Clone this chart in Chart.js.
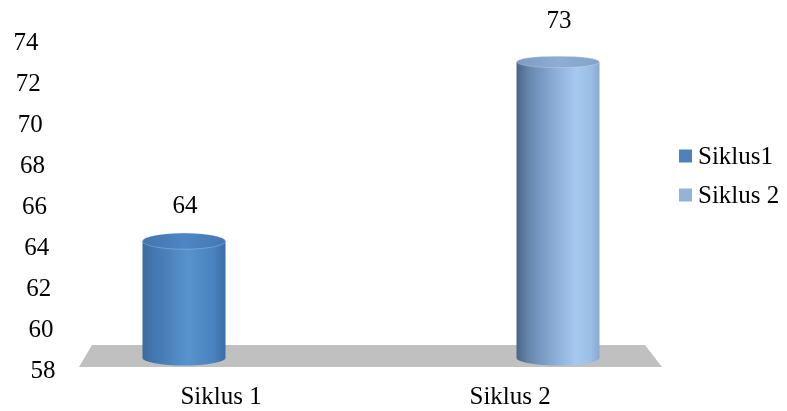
<!DOCTYPE html>
<html><head><meta charset="utf-8">
<script src="https://cdn.jsdelivr.net/npm/chart.js@4.4.0/dist/chart.umd.min.js"></script>
<style>html,body{margin:0;padding:0;background:#fff}#wrap{width:787px;height:411px}</style>
</head><body><div id="wrap"><canvas id="c" width="787" height="411"></canvas></div>
<script>
const categories = ['Siklus 1', 'Siklus 2'];
const seriesNames = ['Siklus1', 'Siklus 2'];
const siklus1Values = [64, null];
const siklus2Values = [null, 73];
const yTicks = [58, 60, 62, 64, 66, 68, 70, 72, 74];
const legendColors = ['#4f81bd', '#95b3d7'];

const FONT = '25px "Liberation Serif", "Times New Roman", serif';

const bodyStops = [
  [[0,'#3a699f'],[0.12,'#4276b0'],[0.55,'#5893cd'],[0.85,'#4a83c0'],[1,'#3b6da5']],
  [[0,'#4a6587'],[0.15,'#6787ad'],[0.5,'#8fb2dc'],[0.72,'#a7c9ef'],[0.9,'#9abde6'],[1,'#87aad3']]
];
const topStops = [
  [[0,'#4275ae'],[0.5,'#4d86c3'],[1,'#4378b2']],
  [[0,'#7c9bc1'],[0.5,'#8fadd2'],[1,'#84a3c9']]
];

function grad(ctx, x0, x1, stops) {
  const g = ctx.createLinearGradient(x0, 0, x1, 0);
  stops.forEach(s => g.addColorStop(s[0], s[1]));
  return g;
}

function drawCylinder(ctx, cx, top, bottom, rx, ry, bry, i) {
  ctx.save();
  ctx.beginPath();
  ctx.moveTo(cx - rx, top);
  ctx.lineTo(cx - rx, bottom);
  ctx.ellipse(cx, bottom, rx, bry, 0, Math.PI, 0, true);
  ctx.lineTo(cx + rx, top);
  ctx.closePath();
  ctx.fillStyle = grad(ctx, cx - rx, cx + rx, bodyStops[i]);
  ctx.fill();
  ctx.beginPath();
  ctx.ellipse(cx, top, rx, ry, 0, 0, Math.PI * 2);
  ctx.fillStyle = grad(ctx, cx - rx, cx + rx, topStops[i]);
  ctx.fill();
  ctx.strokeStyle = 'rgba(255,255,255,0.22)';
  ctx.lineWidth = 1;
  ctx.stroke();
  ctx.restore();
}

const scenePlugin = {
  id: 'scene',
  beforeDatasetsDraw(chart) {
    const ctx = chart.ctx;
    const ys = chart.scales.y, xs = chart.scales.x;
    const ca = chart.chartArea;
    const base = ys.getPixelForValue(ys.min);
    ctx.save();
    ctx.fillStyle = '#c0c0c0';
    ctx.beginPath();
    ctx.moveTo(ca.left - 92, base - 25);
    ctx.lineTo(ca.right + 87, base - 25);
    ctx.lineTo(ca.right + 104, base - 3);
    ctx.lineTo(ca.left - 105, base - 3);
    ctx.closePath();
    ctx.fill();
    ctx.font = FONT;
    ctx.fillStyle = '#000';
    ctx.textAlign = 'center';
    ctx.textBaseline = 'middle';
    yTicks.forEach(v => {
      const cx = 26 + (ys.max - v) * (17 / 16);
      ctx.fillText(String(v), cx, ys.getPixelForValue(v) + 1);
    });
    categories.forEach((c, i) => {
      const px = xs.getPixelForValue(i);
      ctx.fillText(c, 78.8 + 0.773 * px, base + 27);
    });
    ctx.restore();
  },
  afterDatasetsDraw(chart) {
    const ctx = chart.ctx;
    const ys = chart.scales.y;
    const ca = chart.chartArea;
    const base = ys.getPixelForValue(ys.min);
    chart.data.datasets.forEach((ds, di) => {
      const meta = chart.getDatasetMeta(di);
      meta.data.forEach((bar, j) => {
        const v = ds.data[j];
        if (v === null || v === undefined) return;
        const p = bar.getProps(['x', 'y', 'width'], true);
        const rx = p.width / 2;
        const depth = p.y - ca.top;
        const ry = 5.5 + depth / 80;
        const topY = p.y - depth / 35;
        drawCylinder(ctx, p.x, topY, base - 12, rx, ry, 7.5, di);
        ctx.save();
        ctx.font = FONT;
        ctx.fillStyle = '#000';
        ctx.textAlign = 'center';
        ctx.textBaseline = 'middle';
        ctx.fillText(String(v), p.x + 1, p.y - 41);
        ctx.restore();
      });
    });
    ctx.save();
    ctx.font = FONT;
    ctx.textAlign = 'left';
    ctx.textBaseline = 'middle';
    const lx = ca.right + 121;
    const lys = [156, 195];
    seriesNames.forEach((n, i) => {
      ctx.fillStyle = legendColors[i];
      ctx.fillRect(lx, lys[i] - 6.5, 13, 13);
      ctx.fillStyle = '#000';
      ctx.fillText(n, lx + 19, lys[i] + 1);
    });
    ctx.restore();
  }
};

new Chart(document.getElementById('c'), {
  type: 'bar',
  data: {
    labels: categories,
    datasets: [
      { label: seriesNames[0], data: siklus1Values, backgroundColor: 'rgba(0,0,0,0)', skipNull: true },
      { label: seriesNames[1], data: siklus2Values, backgroundColor: 'rgba(0,0,0,0)', skipNull: true }
    ]
  },
  options: {
    responsive: false,
    animation: false,
    barThickness: 83,
    layout: { padding: { left: 184, right: 229, top: 42, bottom: 41 } },
    plugins: { legend: { display: false }, tooltip: { enabled: false } },
    scales: {
      x: { type: 'category', offset: false, display: false },
      y: { min: 58, max: 74, display: false }
    }
  },
  plugins: [scenePlugin]
});
</script>
</body></html>
